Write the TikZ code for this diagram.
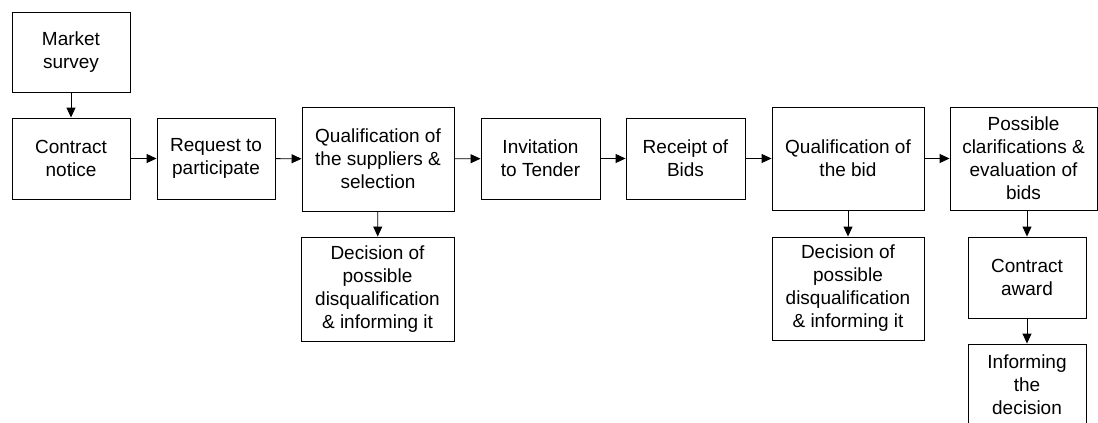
\documentclass[tikz,border=0pt]{standalone}
\usepackage{fontspec}
\setmainfont{Liberation Sans}
\usetikzlibrary{arrows.meta}
\begin{document}
\begin{tikzpicture}[x=1pt,y=-1pt,line width=0.9pt,>={Triangle[length=10pt,width=9pt]}]
  \tikzstyle{stage}=[draw,rectangle,inner sep=0pt,align=center,font=\fontsize{19}{23}\selectfont]
  \useasboundingbox (0,0) rectangle (1098,423);
  \node[stage, minimum width=118, minimum height=80] (survey) at (71,52) {Market\\survey};
  \node[stage, minimum width=118, minimum height=81] (notice) at (71,158.5) {Contract\\notice};
  \node[stage, minimum width=118, minimum height=81] (request) at (216,158.5) {Request to\\participate};
  \node[stage, minimum width=152, minimum height=104] (qualsup) at (378,159) {Qualification of\\the suppliers \&\\selection};
  \node[stage, minimum width=119, minimum height=81] (invite) at (540.5,158.5) {Invitation\\to Tender};
  \node[stage, minimum width=119, minimum height=81] (receipt) at (685.5,158.5) {Receipt of\\Bids};
  \node[stage, minimum width=152, minimum height=103] (qualbid) at (848,158.5) {Qualification of\\the bid};
  \node[stage, minimum width=147, minimum height=103] (clarify) at (1023.5,158.5) {Possible\\clarifications \&\\evaluation of\\bids};
  \node[stage, minimum width=153, minimum height=104] (disq_1) at (377.5,289) {Decision of\\possible\\disqualification\\\& informing it};
  \node[stage, minimum width=152, minimum height=103] (disq_2) at (848,288.5) {Decision of\\possible\\disqualification\\\& informing it};
  \node[stage, minimum width=118, minimum height=81] (award) at (1027,277.5) {Contract\\award};
  \node[stage, minimum width=118, minimum height=81] (inform) at (1027,384.5) {Informing\\the\\decision};
  \draw [->] (survey) -- (notice);
  \draw [->] (notice) -- (request);
  \draw [->] (request) -- (qualsup);
  \draw [->] (qualsup) -- (invite);
  \draw [->] (invite) -- (receipt);
  \draw [->] (receipt) -- (qualbid);
  \draw [->] (qualbid) -- (clarify);
  \draw [->] (qualsup) -- (disq_1);
  \draw [->] (qualbid) -- (disq_2);
  \draw [->] (clarify.south -| award.north) -- (award.north);
  \draw [->] (award) -- (inform);
\end{tikzpicture}
\end{document}
